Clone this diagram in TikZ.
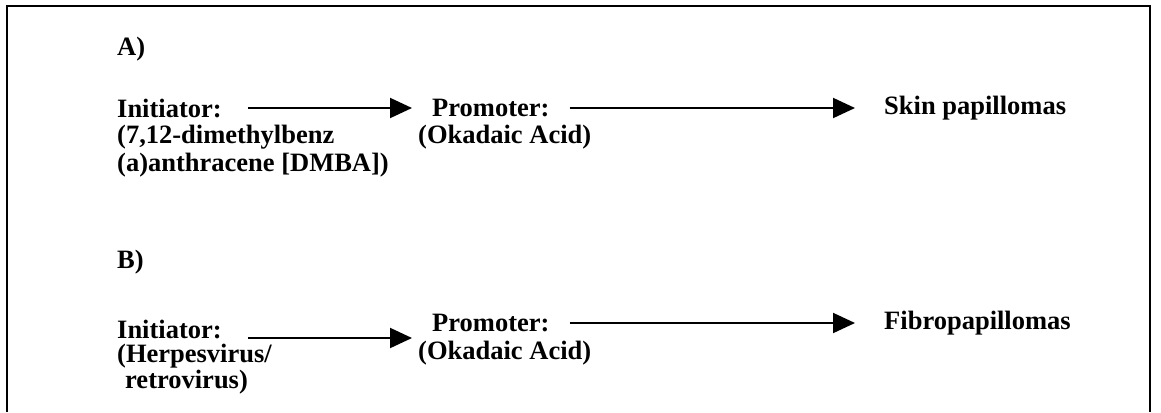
\documentclass[tikz,border=0pt]{standalone}
\usepackage{fontspec}
\setmainfont{Liberation Serif}
\usetikzlibrary{arrows.meta}
\tikzset{
  lbl/.style={font=\fontsize{26.5}{28}\selectfont\bfseries, inner sep=0pt, anchor=west},
  arr/.style={line width=2pt, -{Triangle[length=22pt,width=20pt]}},
  frame/.style={line width=2.5pt}
}
\begin{document}
\begin{tikzpicture}
    [x=1pt,y=-1pt]
    \useasboundingbox (0,0) rectangle (1161,412);
    % frame
    \draw[frame] (7,412)--(7,6)--(1150,6)--(1150,412);
    % A) skin
    \node[lbl] (hdA) at (117,49) {A)};
    \node[lbl] (initA) at (117,108) {Initiator:};
    \node[lbl] (initAa) at (117,137) {(7,12-dimethylbenz};
    \node[lbl] (initAb) at (117,165) {(a)anthracene [DMBA])};
    \node[lbl] (promA) at (432,108) {Promoter:};
    \node[lbl] (promAa) at (418,137) {(Okadaic Acid)};
    \node[lbl] (skinA) at (884,108) {Skin papillomas};
    \draw[arr, shorten <=26pt, shorten >=20pt] (initA) -- (promA);
    \draw[arr, shorten <=20pt, shorten >=29pt] (promA) -- (skinA);
    % B) fibro
    \node[lbl] (hdB) at (117,262) {B)};
    \node[lbl] (initB) at (117,329) {Initiator:};
    \node[lbl] (initBa) at (117,356) {(Herpesvirus/};
    \node[lbl] (initBb) at (125,382) {retrovirus)};
    \node[lbl] (promB) at (432,323) {Promoter:};
    \node[lbl] (promBa) at (418,353) {(Okadaic Acid)};
    \node[lbl] (fibroB) at (884,323) {Fibropapillomas};
    \draw[arr, shorten <=26pt, shorten >=6pt] (initB.base east) -- (initB.base east -| promBa.west);
    \draw[arr, shorten <=20pt, shorten >=29pt] (promB) -- (fibroB);
\end{tikzpicture}
\end{document}
